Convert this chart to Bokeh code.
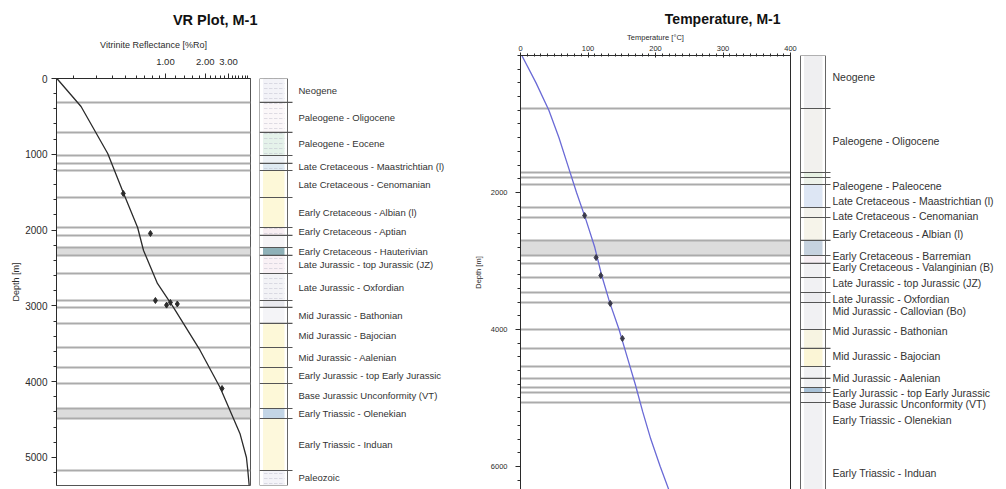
from bokeh.plotting import figure
from bokeh.layouts import row, column
from bokeh.models import (Range1d, FixedTicker, SingleIntervalTicker,
                          PrintfTickFormatter, LinearAxis)
from bokeh.embed import file_html
from bokeh.resources import INLINE
from bokeh.core.properties import value

FONT = "Liberation Sans"
INK = "#2b2b2b"
LINE_GREY = "#ababab"
BAND_GREY = "#dcdcdc"

# ---------------- Well M-1: vitrinite reflectance ----------------
vr_depth = [0, 369, 989, 1517, 1966, 2269, 2704, 3021, 3588, 4077, 4683, 5000, 5172, 5370]
vr_calc = [0.151, 0.23, 0.366, 0.483, 0.616, 0.683, 0.87, 1.15, 1.83, 2.59, 3.66, 4.1, 4.2, 4.3]
vr_meas_depth = [1517, 2045, 2929, 2955, 2975, 2990, 4090]
vr_meas = [0.48, 0.77, 0.84, 1.09, 1.23, 1.02, 2.68]
vr_td = 5370
vr_ticks = [1, 2, 3]
vr_minor = [0.2, 0.3, 0.4, 0.5, 0.6, 0.7, 0.8, 0.9, 1.2, 1.4, 1.6, 1.8,
            2.2, 2.4, 2.6, 2.8, 3.2, 3.4, 3.6, 3.8, 4.0, 4.2]

form_top_l = [0, 314, 710, 1016, 1120, 1214, 1570, 1966, 2071, 2230, 2335,
              2573, 2929, 3021, 3232, 3549, 3813, 4024, 4354, 4486, 5172]
form_name_l = ["Neogene", "Paleogene - Oligocene", "Paleogene - Eocene", "",
               "Late Cretaceous - Maastrichtian (l)", "Late Cretaceous - Cenomanian",
               "Early Cretaceous - Albian (l)", "Early Cretaceous - Aptian", "",
               "Early Cretaceous - Hauterivian", "Late Jurassic - top Jurassic (JZ)",
               "Late Jurassic - Oxfordian", "", "Mid Jurassic - Bathonian",
               "Mid Jurassic - Bajocian", "Mid Jurassic - Aalenian",
               "Early Jurassic - top Early Jurassic", "Base Jurassic Unconformity (VT)",
               "Early Triassic - Olenekian", "Early Triassic - Induan", "Paleozoic"]
form_fill_l = ["#f3f3f8", "#fbf7f9", "#e5f2ea", "#eef2f6", "#dfeaf2", "#fdf8d8",
               "#fdf8d8", "#f8eef2", "#f6f4f6", "#8fb1b8", "#f9f1f5", "#f3f3f6",
               "#e9e9ee", "#f4f4f7", "#fdf8d8", "#fdf8d8", "#fdf8d8", "#fdf8d8",
               "#c3d5e6", "#fdf8dc", "#f3f3f8"]
form_hatch_l = ['"', '"', '"', " ", '"', " ", " ", '"', " ", " ", '"', '"',
                " ", " ", " ", " ", " ", " ", " ", " ", '"']
form_band_l = [False] * 9 + [True] + [False] * 8 + [True, False, False]

# ---------------- Well M-1: temperature ----------------
temp_depth = [0, 400, 800, 1200, 1600, 2000, 2400, 2800, 3200, 3600, 4000,
              4400, 4800, 5200, 5600, 6000, 6400]
temp_calc = [2, 23, 42, 57, 70, 83, 97, 110, 120, 132, 146, 158, 170, 181, 193, 207, 222]
temp_meas_depth = [2336, 2950, 3212, 3620, 4131]
temp_meas = [95, 112, 119, 133, 151]
temp_td = 6336

form_top_r = [0, 774, 1708, 1781, 1883, 2219, 2365, 2700, 2920, 3036, 3241,
              3460, 3606, 4000, 4277, 4540, 4715, 4847, 4920, 5066]
form_fill_r = ["#efeff1", "#f2f1ee", "#e6f0e2", "#edf2ea", "#dde6f4", "#f3f2ec",
               "#f6f4ea", "#c6d2df", "#f6eef3", "#f1f1f3", "#f1f1f3", "#ececef",
               "#f1f1f3", "#f7f4e2", "#fbf5d6", "#f1f1f3", "#f1f1f3", "#a9c2d8",
               "#f1f1f3", "#f1f1f3"]
form_band_r = [False] * 7 + [True] + [False] * 12
# label anchors (m), spread out where intervals are thin
label_r = ["Neogene", "Paleogene - Oligocene", "Paleogene - Paleocene",
           "Late Cretaceous - Maastrichtian (l)", "Late Cretaceous - Cenomanian",
           "Early Cretaceous - Albian (l)", "Early Cretaceous - Barremian",
           "Early Cretaceous - Valanginian (B)", "Late Jurassic - top Jurassic (JZ)",
           "Late Jurassic - Oxfordian", "Mid Jurassic - Callovian (Bo)",
           "Mid Jurassic - Bathonian", "Mid Jurassic - Bajocian",
           "Mid Jurassic - Aalenian", "Early Jurassic - top Early Jurassic",
           "Base Jurassic Unconformity (VT)", "Early Triassic - Olenekian",
           "Early Triassic - Induan"]
label_depth_r = [321, 1241, 1898, 2117, 2350, 2599, 2934, 3095, 3314, 3562,
                 3737, 4029, 4394, 4701, 4934, 5095, 5328, 6102]


def style_axis(ax, tick_size, label_size):
    ax.axis_line_color = INK
    ax.major_tick_line_color = INK
    ax.minor_tick_line_color = INK
    ax.major_tick_in = 0
    ax.major_tick_out = 5
    ax.minor_tick_in = 0
    ax.minor_tick_out = 3
    ax.major_label_text_font = FONT
    ax.major_label_text_font_size = tick_size
    ax.major_label_text_color = INK
    ax.axis_label_text_font = FONT
    ax.axis_label_text_font_size = label_size
    ax.axis_label_text_font_style = "normal"
    ax.axis_label_text_color = INK


def style_title(p, offset, standoff, size):
    p.title.align = "right"
    p.title.offset = offset
    p.title.standoff = standoff
    p.title.text_font = FONT
    p.title.text_font_size = size
    p.title.text_font_style = "bold"
    p.title.text_color = "#111111"


def zone_lines(p, tops, base, bands):
    bases = tops[1:] + [base]
    y0 = [t for t, b in zip(tops, bands) if b]
    y1 = [b for b, f in zip(bases, bands) if f]
    p.hstrip(y0=y0, y1=y1, fill_color=BAND_GREY, line_color=None)
    p.hspan(y=tops[1:], line_color=LINE_GREY, line_width=1.8)


def formation_strip(width, y_range, tops, base, fills, hatches, label_y, labels,
                    font_size, border_top, border_bottom, x0, col_w, text_dx):
    s = figure(width=width, height=489, x_range=Range1d(0, width), y_range=y_range,
               x_axis_type=None, y_axis_type=None, toolbar_location=None,
               output_backend="svg", min_border_left=0, min_border_right=0,
               min_border_top=border_top, min_border_bottom=border_bottom,
               outline_line_color=None)
    bases = tops[1:] + [base]
    s.quad(left=x0 + 3.5, right=x0 + col_w - 3, top=tops, bottom=bases,
           fill_color=fills, line_color=None, hatch_pattern=hatches,
           hatch_color="#b4b4c6", hatch_alpha=0.7, hatch_scale=5, hatch_weight=0.6)
    s.quad(left=x0, right=x0 + col_w, top=tops[0], bottom=base,
           fill_color=None, line_color="#666666", line_width=1)
    s.segment(x0=x0, x1=x0 + col_w + 5, y0=tops[1:], y1=tops[1:],
              line_color="#555555", line_width=1.2)
    s.text(x=x0 + text_dx, y=label_y, text=labels, text_baseline="middle",
           text_align="left", text_font=value(FONT), text_font_size=font_size,
           text_color="#333333")
    return s


# ---- VR depth plot ----
vr = figure(width=259, height=489, title="VR Plot, M-1", x_axis_type="log",
            x_axis_location="above", x_range=Range1d(0.15, 4.4),
            y_range=Range1d(vr_td, 0), toolbar_location=None, output_backend="svg",
            min_border_left=56, min_border_right=9, min_border_top=78,
            min_border_bottom=4)
vr.grid.visible = False
vr.outline_line_color = "#555555"
style_title(vr, -7, 18, "14.5px")
vr.xaxis.axis_label = "Vitrinite Reflectance [%Ro]"
vr.xaxis.ticker = FixedTicker(ticks=vr_ticks, minor_ticks=vr_minor)
vr.xaxis.formatter = PrintfTickFormatter(format="%.2f")
style_axis(vr.xaxis[0], "9.5px", "9px")
vr.xaxis.major_label_standoff = 9
vr.xaxis.axis_label_standoff = 6
vr.yaxis.axis_label = "Depth [m]"
vr.yaxis.ticker = SingleIntervalTicker(interval=1000, num_minor_ticks=5)
style_axis(vr.yaxis[0], "10px", "9px")
vr.yaxis.major_label_standoff = 4
vr.yaxis.axis_label_standoff = 1

zone_lines(vr, form_top_l, vr_td, form_band_l)
vr.line(vr_calc, vr_depth, line_color=INK, line_width=1.3)
vr.scatter(vr_meas, vr_meas_depth, marker="diamond", size=6, color=INK)

bases_l = form_top_l[1:] + [vr_td]
mid_l = [(a + b) / 2 for a, b in zip(form_top_l, bases_l)]
strip_l = formation_strip(211, vr.y_range, form_top_l, vr_td, form_fill_l,
                          form_hatch_l, mid_l, form_name_l, "9.5px", 78, 4,
                          0, 28, 39)

# ---- Temperature depth plot ----
tp = figure(width=327, height=489, title="Temperature, M-1", x_axis_location="above",
            x_range=Range1d(0, 400), y_range=Range1d(temp_td, 0),
            toolbar_location=None, output_backend="svg",
            min_border_left=48, min_border_right=7, min_border_top=55,
            min_border_bottom=0)
tp.grid.visible = False
tp.outline_line_color = None
style_title(tp, 10, 5, "14px")
tp.xaxis.axis_label = "Temperature [°C]"
tp.xaxis.ticker = SingleIntervalTicker(interval=100, num_minor_ticks=10)
style_axis(tp.xaxis[0], "7.5px", "7.5px")
tp.xaxis.major_tick_out = 3
tp.xaxis.major_tick_in = 2
tp.xaxis.minor_tick_out = 2
tp.xaxis.minor_tick_in = 1
tp.xaxis.major_label_standoff = 2
tp.xaxis.axis_label_standoff = 1
tp.yaxis.axis_label = "Depth [m]"
tp.yaxis.ticker = FixedTicker(ticks=[2000, 4000, 6000],
                              minor_ticks=list(range(0, temp_td, 200)))
style_axis(tp.yaxis[0], "7.5px", "7.5px")
tp.yaxis.major_label_standoff = 8
tp.yaxis.axis_label_standoff = 5
edge = LinearAxis(ticker=FixedTicker(ticks=[]), axis_line_color=INK,
                  major_tick_line_color=None, minor_tick_line_color=None)
tp.add_layout(edge, "right")

zone_lines(tp, form_top_r, temp_td, form_band_r)
tp.line(temp_calc, temp_depth, line_color="#6a6ad6", line_width=1.3)
tp.scatter(temp_meas, temp_meas_depth, marker="diamond", size=6, color="#3a3a4a")

strip_r = formation_strip(209, tp.y_range, form_top_r, temp_td, form_fill_r,
                          [" "] * len(form_top_r), label_depth_r, label_r,
                          "10.5px", 55, 0, 3, 25, 32)

# the two panels have different frame offsets, so keep them in separate boxes
left_panel = column(row(vr, strip_l))
right_panel = column(row(tp, strip_r))
layout = row(left_panel, right_panel)
open("out.html", "w").write(file_html(layout, INLINE))
